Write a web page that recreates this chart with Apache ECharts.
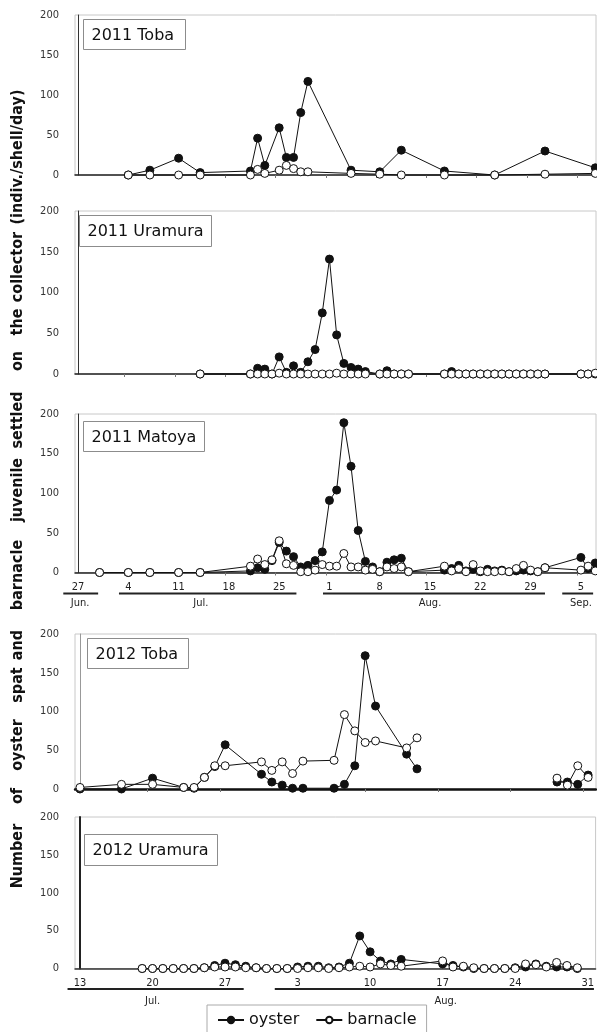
<!DOCTYPE html>
<html>
<head>
<meta charset="UTF-8">
<title>Oyster spat and barnacle juvenile settlement</title>
<script src="https://cdn.jsdelivr.net/npm/echarts@6.0.0/dist/echarts.min.js"></script>
<style>
  html, body { margin: 0; padding: 0; background: #fff; }
  #main { width: 597px; height: 1032px; }
</style>
</head>
<body>
<div id="main"></div>
<script>
// day numbers: 2011 -> day 0 = 27 Jun, 2012 -> day 0 = 13 Jul
var tobaDays11 = [7, 10, 14, 17, 24, 25, 26, 28, 29, 30, 31, 32, 38, 42, 45, 51, 58, 65, 72];
var tobaOyster11 = [0, 6, 21, 3, 5, 46, 12, 59, 22, 22, 78, 117, 6, 4, 31, 5, 0, 30, 9];
var tobaBarnacle11 = [0, 0, 0, 0, 0, 7, 2, 6, 12, 8, 4, 4, 2, 1, 0, 0, 0, 1, 2];

var uraDays11 = [17,
  24, 25, 26, 27, 28, 29, 30, 31, 32, 33, 34, 35, 36, 37, 38, 39, 40,
  42, 43, 44, 45, 46,
  51, 52, 53, 54, 55, 56, 57, 58, 59, 60, 61, 62, 63, 64, 65,
  70, 71, 72];
var uraOyster11 = [0,
  0, 7, 6, 0, 21, 2, 10, 2, 15, 30, 75, 141, 48, 13, 8, 6, 3,
  0, 4, 0, 0, 0,
  0, 3, 0, 0, 0, 0, 0, 0, 0, 0, 0, 0, 0, 0, 0,
  0, 0, 0];
var uraBarnacle11 = [0,
  0, 0, 0, 0, 1, 0, 0, 0, 0, 0, 0, 0, 1, 0, 0, 0, 0,
  0, 0, 0, 0, 0,
  0, 0, 0, 0, 0, 0, 0, 0, 0, 0, 0, 0, 0, 0, 0,
  0, 0, 1];

var matDays11 = [3, 7, 10, 14, 17,
  24, 25, 26, 27, 28, 29, 30, 31, 32, 33, 34, 35, 36, 37, 38, 39, 40, 41, 42, 43, 44, 45, 46,
  51, 52, 53, 54, 55, 56, 57, 58, 59, 60, 61, 62, 63, 64, 65,
  70, 71, 72];
var matOyster11 = [0, 0, 0, 0, 0,
  2, 6, 4, 15, 38, 27, 20, 7, 9, 15, 26, 91, 104, 189, 134, 53, 14, 7, 1, 13, 16, 18, 1,
  3, 5, 9, 2, 4, 1, 4, 2, 3, 1, 2, 3, 2, 1, 6,
  19, 5, 12];
var matBarnacle11 = [0, 0, 0, 0, 0,
  8, 17, 10, 16, 40, 11, 9, 1, 1, 3, 10, 8, 8, 24, 7, 7, 3, 4, 1, 7, 5, 7, 1,
  8, 2, 5, 1, 10, 2, 1, 1, 2, 1, 5, 9, 3, 1, 6,
  3, 8, 2];

// null = no sampling, the line breaks there
var tobaDays12 = [0, 4, 7, 10, 11, 12, 13, 14, 17.5, 18.5, 19.5, 20.5, 21.5, 24.5, 25.5, 26.5, 27.5, 28.5, 31.5, 32.5, null, 46, 47, 48, 49];
var tobaOyster12 = [0, 0, 14, 2, 1, 15, 29, 57, 19, 9, 5, 1, 1, 1, 6, 30, 172, 107, 45, 26, null, 9, 9, 6, 18];
var tobaBarnacle12 = [2, 6, 6, 2, 2, 15, 30, 30, 35, 24, 35, 20, 36, 37, 96, 75, 60, 62, 53, 66, null, 14, 5, 30, 15];

var uraDays12 = [6, 7, 8, 9, 10, 11, 12, 13, 14, 15, 16, 17, 18, 19, 20, 21, 22, 23, 24, 25, 26, 27, 28, 29, 30, 31,
  35, 36, 37, 38, 39, 40, 41, 42, 43, 44, 45, 46, 47, 48];
var uraOyster12 = [0, 0, 0, 0, 0, 0, 1, 4, 7, 5, 3, 1, 0, 0, 0, 2, 3, 3, 1, 2, 7, 43, 22, 10, 6, 12,
  6, 4, 2, 0, 0, 0, 0, 1, 2, 6, 3, 2, 2, 0];
var uraBarnacle12 = [0, 0, 0, 0, 0, 0, 1, 2, 2, 2, 1, 1, 0, 0, 0, 0, 1, 1, 0, 1, 2, 3, 2, 6, 4, 3,
  10, 2, 3, 1, 0, 0, 0, 0, 6, 5, 2, 8, 4, 1];

// x tick labels
var labelDays11 = [0, 7, 14, 21, 28, 35, 42, 49, 56, 63, 70];
var labels11 = ['27', '4', '11', '18', '25', '1', '8', '15', '22', '29', '5'];
var labelDays12 = [0, 7, 14, 21, 28, 35, 42, 49];
var labels12 = ['13', '20', '27', '3', '10', '17', '24', '31'];

var panelTitles = ['2011 Toba', '2011 Uramura', '2011 Matoya', '2012 Toba', '2012 Uramura'];
var yTitleWords = ['Number', 'of', 'oyster', 'spat', 'and', 'barnacle', 'juvenile', 'settled', 'on', 'the', 'collector', '(indiv./shell/day)'];

// month names under the axis: [name, label day, bar start, bar end]
var months11 = [['Jun.', 0.3, -2.05, 2.8], ['Jul.', 17.1, 5.7, 30.4], ['Aug.', 49, 34.1, 65], ['Sep.', 70, 67.4, 71.7]];
var months12 = [['Jul.', 7, -1.2, 15.8], ['Aug.', 35.3, 18.8, 49.6]];

var NARROW = "'DejaVu Sans Condensed', 'Liberation Sans Narrow', 'DejaVu Sans', sans-serif";
var INK = '#111';

function pairs(days, vals) {
  return days.map(function (d, i) {
    return d === null ? ['-', '-'] : [d, vals[i]];
  });
}

var chart = echarts.init(document.getElementById('main'));

// grid boxes (px)
var grids = [
  { left: 75, top: 15, width: 521, height: 160 },
  { left: 75, top: 211, width: 521, height: 163 },
  { left: 75, top: 414, width: 521, height: 158.5 },
  { left: 75, top: 634, width: 521, height: 155 },
  { left: 75, top: 817, width: 521, height: 151.5 }
].map(function (g) {
  return { left: g.left, top: g.top, width: g.width, height: g.height, show: true, borderColor: '#c8c8c8', borderWidth: 1, backgroundColor: 'transparent' };
});

var ticks11 = [6.5, 13.5, 20.5, 27.5, 34.5, 41.5, 48.5, 55.5, 62.5, 69.5];
var ticks12 = [6.5, 13.5, 20.5, 27.5, 34.5, 41.5, 48.5];

function xAxis(i, is2012, showLabels, lineColor, lineWidth, showTicks) {
  var days = is2012 ? labelDays12 : labelDays11;
  var labs = is2012 ? labels12 : labels11;
  return {
    type: 'value', gridIndex: i,
    min: is2012 ? -0.48 : -0.42,
    max: is2012 ? 49.76 : 72.1,
    splitLine: { show: false },
    axisLine: { show: true, onZero: false, lineStyle: { color: lineColor, width: lineWidth } },
    axisTick: { show: showTicks, length: 3, inside: false, customValues: is2012 ? ticks12 : ticks11, lineStyle: { color: '#777' } },
    axisLabel: {
      show: showLabels, customValues: days, margin: 9,
      fontSize: 11, color: '#222', fontFamily: NARROW,
      formatter: function (v) {
        var k = days.indexOf(v);
        return k < 0 ? '' : labs[k];
      }
    }
  };
}

function yAxis(i, lineColor, lineWidth) {
  return {
    type: 'value', gridIndex: i, min: 0, max: 200, interval: 50,
    splitLine: { show: false },
    axisTick: { show: false },
    axisLine: { show: true, lineStyle: { color: lineColor, width: lineWidth } },
    axisLabel: { margin: 16, fontSize: 11, color: '#333', fontFamily: NARROW }
  };
}

function lineSeries(name, i, data, open) {
  return {
    name: name, type: 'line', xAxisIndex: i, yAxisIndex: i,
    data: data, connectNulls: false, clip: false,
    symbol: 'circle', symbolSize: 8, showSymbol: true,
    lineStyle: { color: INK, width: 1 },
    itemStyle: open ? { color: '#fff', borderColor: INK, borderWidth: 1 } : { color: INK, borderColor: INK, borderWidth: 1 },
    emphasis: { disabled: true },
    z: open ? 4 : 3
  };
}

var panels = [
  [tobaDays11, tobaOyster11, tobaBarnacle11],
  [uraDays11, uraOyster11, uraBarnacle11],
  [matDays11, matOyster11, matBarnacle11],
  [tobaDays12, tobaOyster12, tobaBarnacle12],
  [uraDays12, uraOyster12, uraBarnacle12]
];
var series = [];
panels.forEach(function (p, i) {
  series.push(lineSeries('oyster', i, pairs(p[0], p[1]), false));
  series.push(lineSeries('barnacle', i, pairs(p[0], p[2]), true));
});

chart.setOption({
  animation: false,
  backgroundColor: '#fff',
  grid: grids,
  xAxis: [
    xAxis(0, false, false, '#222', 1.5, true),
    xAxis(1, false, false, '#222', 1.5, true),
    xAxis(2, false, true, '#222', 1.5, true),
    xAxis(3, true, false, '#111', 2.5, true),
    xAxis(4, true, true, '#333', 1.5, false)
  ],
  yAxis: [
    yAxis(0, '#333', 1), yAxis(1, '#333', 1), yAxis(2, '#333', 1),
    yAxis(3, '#999', 1), yAxis(4, '#222', 2)
  ],
  legend: {
    data: ['oyster', 'barnacle'],
    left: 207, top: 1005,
    itemWidth: 26, itemHeight: 8, itemGap: 16,
    padding: [7, 10, 8, 10],
    borderColor: '#aaa', borderWidth: 1,
    textStyle: { fontSize: 16, color: INK, fontFamily: "'DejaVu Sans', sans-serif" }
  },
  series: series
});

// annotations: panel name boxes, the y title, month names with underline bars
var boxes = [
  [83.5, 19.5, 102, 30], [79.5, 215.5, 132, 31], [83.5, 421.5, 121, 30],
  [87.5, 638.5, 101, 30], [84.5, 834.5, 133, 31]
];
var wordY = [856, 796, 745, 685, 645, 575, 490, 420, 361, 322, 267, 157];
var graphics = [];

boxes.forEach(function (b, i) {
  graphics.push({ type: 'rect', z: 50, shape: { x: b[0], y: b[1], width: b[2], height: b[3] },
    style: { fill: '#fff', stroke: '#8c8c8c', lineWidth: 1 } });
  graphics.push({ type: 'text', z: 51, x: b[0] + 8, y: b[1] + b[3] / 2 + 1,
    style: { text: panelTitles[i], fontSize: 16, fontFamily: "'DejaVu Sans', sans-serif", fill: INK, verticalAlign: 'middle' } });
});

yTitleWords.forEach(function (w, i) {
  graphics.push({ type: 'text', z: 50, x: 18, y: wordY[i], rotation: Math.PI / 2,
    style: { text: w, fontSize: 16, fontWeight: 'bold', fontFamily: NARROW, fill: INK, align: 'center', verticalAlign: 'middle' } });
});

function monthMarks(axisIdx, months, barY, textY) {
  months.forEach(function (m) {
    var xl = chart.convertToPixel({ xAxisIndex: axisIdx }, m[1]);
    var x1 = chart.convertToPixel({ xAxisIndex: axisIdx }, m[2]);
    var x2 = chart.convertToPixel({ xAxisIndex: axisIdx }, m[3]);
    graphics.push({ type: 'line', z: 50, shape: { x1: x1, y1: barY, x2: x2, y2: barY },
      style: { stroke: '#222', lineWidth: 2 } });
    graphics.push({ type: 'text', z: 50, x: xl, y: textY,
      style: { text: m[0], fontSize: 11, fontFamily: NARROW, fill: '#222', align: 'center', verticalAlign: 'middle' } });
  });
}
monthMarks(2, months11, 593.5, 603);
monthMarks(4, months12, 989, 1001);

chart.setOption({ graphic: graphics });
</script>
</body>
</html>
